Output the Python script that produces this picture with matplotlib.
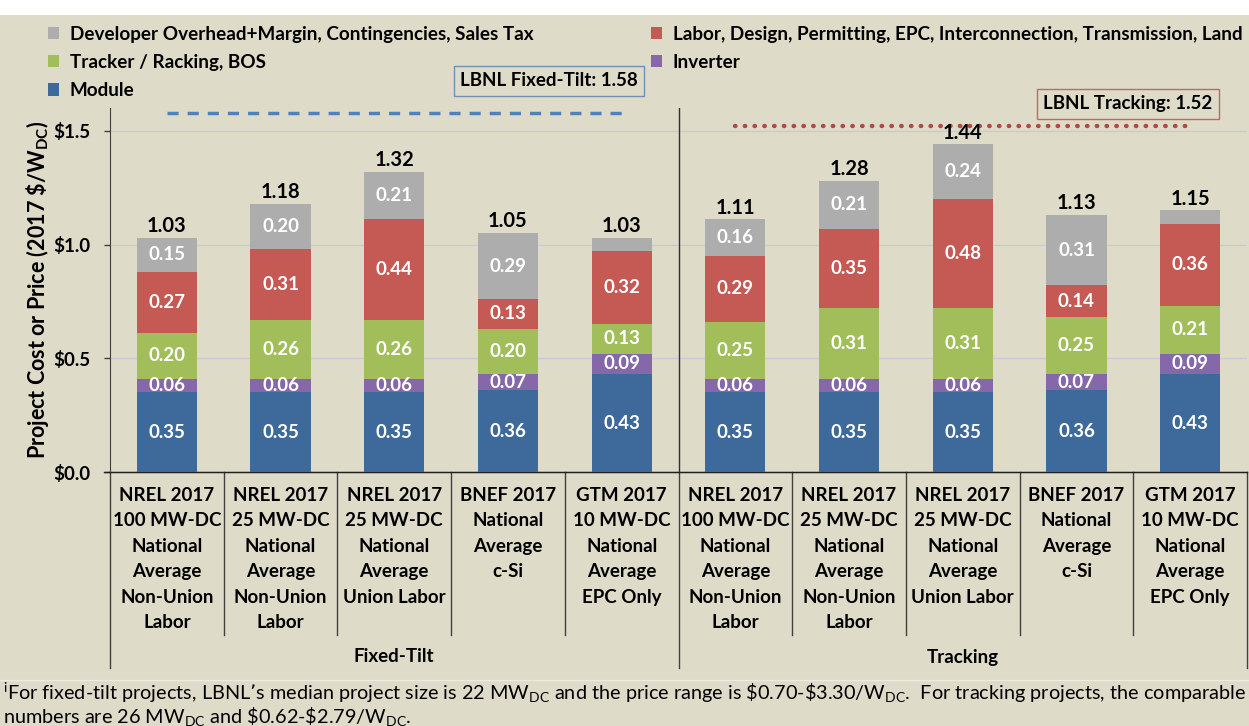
import matplotlib
matplotlib.use("Agg")
import matplotlib.pyplot as plt
import numpy as np

plt.rcParams['font.family'] = ['Lato', 'DejaVu Sans']
plt.rcParams['mathtext.default'] = 'regular'

# ---- data ----
categories = [
    "NREL 2017\n100 MW-DC\nNational\nAverage\nNon-Union\nLabor",
    "NREL 2017\n25 MW-DC\nNational\nAverage\nNon-Union\nLabor",
    "NREL 2017\n25 MW-DC\nNational\nAverage\nUnion Labor",
    "BNEF 2017\nNational\nAverage\nc-Si",
    "GTM 2017\n10 MW-DC\nNational\nAverage\nEPC Only",
    "NREL 2017\n100 MW-DC\nNational\nAverage\nNon-Union\nLabor",
    "NREL 2017\n25 MW-DC\nNational\nAverage\nNon-Union\nLabor",
    "NREL 2017\n25 MW-DC\nNational\nAverage\nUnion Labor",
    "BNEF 2017\nNational\nAverage\nc-Si",
    "GTM 2017\n10 MW-DC\nNational\nAverage\nEPC Only",
]
groups = ["Fixed-Tilt", "Tracking"]
module   = [0.35, 0.35, 0.35, 0.36, 0.43, 0.35, 0.35, 0.35, 0.36, 0.43]
inverter = [0.06, 0.06, 0.06, 0.07, 0.09, 0.06, 0.06, 0.06, 0.07, 0.09]
racking  = [0.20, 0.26, 0.26, 0.20, 0.13, 0.25, 0.31, 0.31, 0.25, 0.21]
labor    = [0.27, 0.31, 0.44, 0.13, 0.32, 0.29, 0.35, 0.48, 0.14, 0.36]
overhead = [0.15, 0.20, 0.21, 0.29, 0.06, 0.16, 0.21, 0.24, 0.31, 0.06]
overhead_labeled = [True, True, True, True, False, True, True, True, True, False]
totals   = [1.03, 1.18, 1.32, 1.05, 1.03, 1.11, 1.28, 1.44, 1.13, 1.15]
lbnl_fixed = 1.58
lbnl_tracking = 1.52

series = [
    ("Module", module, "#3E6A9B"),
    ("Inverter", inverter, "#8667AA"),
    ("Tracker / Racking, BOS", racking, "#A2BE5B"),
    ("Labor, Design, Permitting, EPC, Interconnection, Transmission, Land", labor, "#C55A55"),
    ("Developer Overhead+Margin, Contingencies, Sales Tax", overhead, "#ADADAD"),
]

BG = "#DFDBC9"
fig = plt.figure(figsize=(12.49, 7.26), dpi=100)
fig.patch.set_facecolor("white")
fig.add_artist(plt.Rectangle((0, 0), 1, 1 - 15 / 726, transform=fig.transFigure,
                             facecolor=BG, edgecolor="none", zorder=-10))

ax = fig.add_axes([110 / 1249, 1 - 472 / 726, (1247 - 110) / 1249, (472 - 108) / 726])
ax.set_facecolor(BG)
x = np.arange(len(categories))
width = 0.53
bottom = np.zeros(len(categories))
handles = {}
for name, vals, col in series:
    vals = np.array(vals)
    b = ax.bar(x, vals, width, bottom=bottom, color=col, zorder=3, label=name)
    handles[name] = b
    for i, (v, bt) in enumerate(zip(vals, bottom)):
        if name.startswith("Developer") and not overhead_labeled[i]:
            continue
        ax.text(x[i], bt + v / 2, f"{v:.2f}", ha="center", va="center",
                color="white", fontsize=13.5, fontweight="bold", zorder=4)
    bottom = bottom + vals

for i, t in enumerate(totals):
    ax.text(x[i], bottom[i] + 0.008, f"{t:.2f}", ha="center", va="bottom",
            color="black", fontsize=14.5, fontweight="bold", zorder=4)

ax.set_xlim(-0.5, len(categories) - 0.5)
ax.set_ylim(0, 1.6)
ax.set_yticks([0, 0.5, 1.0, 1.5])
ax.set_yticklabels(["\\$0.0", "\\$0.5", "\\$1.0", "\\$1.5"], fontsize=13.5, fontweight="bold")
ax.yaxis.grid(True, color="#C5CCD6", linewidth=1, zorder=0)
ax.tick_params(axis="y", length=4.3, width=1, direction="out", pad=10, color="#404040")
ax.set_xticks([])
for s in ["top", "right"]:
    ax.spines[s].set_visible(False)
ax.spines["left"].set_color("#404040")
ax.spines["bottom"].set_color("#202020")
ax.set_ylabel("Project Cost or Price (2017 \\$/W$_{DC}$)", fontsize=15.5, fontweight="bold")
ax.yaxis.set_label_coords((51 - 110) / 1137, 0.5)

# LBNL reference lines
ax.plot([0, 4], [lbnl_fixed, lbnl_fixed], color="#4F81BD", linewidth=2.5,
        linestyle=(0, (3.2, 2.6)), zorder=3)
ax.plot([5, 9], [lbnl_tracking, lbnl_tracking], color="#B04A47", linewidth=3.2,
        linestyle=(0, (0.1, 2.1)), dash_capstyle="round", solid_capstyle="round", zorder=3)

# group separator through plot
ax.plot([4.5, 4.5], [0, 1.6], color="#303030", linewidth=1, zorder=2)

# category labels and separators below axis
trans = ax.get_xaxis_transform()
H = 472 - 108
ybot_cat = -(635 - 472) / H
ybot_grp = -(668 - 472) / H
for i, c in enumerate(categories):
    ax.text(x[i], -(487 - 472) / H, c, transform=trans, ha="center", va="top", fontsize=13.5,
            fontweight="bold", linespacing=1.6)
for b in np.arange(0.5, len(categories) - 1, 1.0):
    if b == 4.5:
        continue
    ax.plot([b, b], [0, ybot_cat], transform=trans, color="#404040", linewidth=1, clip_on=False)
for b in [-0.5, 4.5, 9.5]:
    ax.plot([b, b], [0, ybot_grp], transform=trans, color="#404040", linewidth=1, clip_on=False)
ax.plot([-0.55, 9.5], [0, 0], transform=trans, color="#202020", linewidth=1, clip_on=False)
ax.text(2, -(657 - 472) / H, groups[0], transform=trans, ha="center", va="center",
        fontsize=13.5, fontweight="bold")
ax.text(7, -(657 - 472) / H, groups[1], transform=trans, ha="center", va="center",
        fontsize=13.5, fontweight="bold")

# legends
order_left = ["Developer Overhead+Margin, Contingencies, Sales Tax", "Tracker / Racking, BOS", "Module"]
order_right = ["Labor, Design, Permitting, EPC, Interconnection, Transmission, Land", "Inverter"]
lkw = dict(frameon=False, prop={"weight": "bold", "size": 13.6}, handlelength=0.62, handleheight=0.62,
           handletextpad=0.55, labelspacing=0.6, borderaxespad=0, loc="upper left")
fig.legend([handles[n] for n in order_left], order_left,
           bbox_to_anchor=(40 / 1249, 1 - 18 / 726), **lkw)
fig.legend([handles[n] for n in order_right], order_right,
           bbox_to_anchor=(643 / 1249, 1 - 18 / 726), **lkw)

fig.text(549 / 1249, 1 - 81 / 726, "LBNL Fixed-Tilt: 1.58", ha="center", va="center",
         fontsize=13.5, fontweight="bold",
         bbox=dict(boxstyle="square,pad=0.35", facecolor=BG, edgecolor="#7090B5", linewidth=1))
fig.text(1128 / 1249, 1 - 104 / 726, "LBNL Tracking: 1.52", ha="center", va="center",
         fontsize=13.5, fontweight="bold",
         bbox=dict(boxstyle="square,pad=0.35", facecolor=BG, edgecolor="#C06868", linewidth=1))

# footnote
fig.add_artist(plt.Line2D([0, 1], [1 - 680 / 726] * 2, transform=fig.transFigure,
                          color="#ECEBE3", linewidth=1))
fig.text(3 / 1249, 1 - 693 / 726,
         "$^{i}$For fixed-tilt projects, LBNL\u2019s median project size is 22 MW$_{DC}$ and the price range is "
         "\\$0.70-\\$3.30/W$_{DC}$.  For tracking projects, the comparable",
         ha="left", va="center", fontsize=14.3)
fig.text(3 / 1249, 1 - 716 / 726,
         "numbers are 26 MW$_{DC}$ and \\$0.62-\\$2.79/W$_{DC}$.",
         ha="left", va="center", fontsize=14.3)

fig.savefig("out.png", dpi=100, facecolor=fig.get_facecolor())
